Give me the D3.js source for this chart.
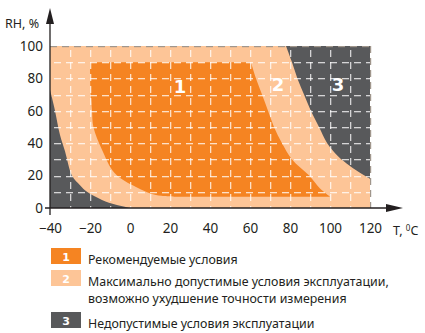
<!DOCTYPE html>
<html>
<head>
<meta charset="utf-8">
<script src="https://cdn.jsdelivr.net/npm/d3@7"></script>
<style>
  body { margin: 0; background: #fff; }
  text { font-family: "Noto Sans", sans-serif; fill: #231f20; }
</style>
</head>
<body>
<svg width="425" height="333"></svg>
<script>
// axis ticks
var tempTicks = [-40, -20, 0, 20, 40, 60, 80, 100, 120]
var rhTicks = [0, 20, 40, 60, 80, 100]
var tempGrid = [-30, -20, -10, 0, 10, 20, 30, 40, 50, 60, 70, 80, 90, 100, 110]
var rhGrid = [10, 20, 30, 40, 50, 60, 70, 80, 90]

// zone boundaries, [T, RH]
var zone3Low = [[-40, 73], [-39, 68], [-37.5, 60], [-35, 45], [-32.5, 35], [-29, 20], [-25, 14], [-21.5, 10], [-14, 5], [-7, 2], [0, 0]]
var zone3High = [[78, 100], [81, 90], [83.7, 80], [87, 70], [90.4, 60], [94.5, 50], [98.6, 40], [104, 32], [110, 26], [116, 21], [120, 18]]
var zone1Left = [[-20, 90], [-19.8, 75], [-19, 60], [-18.3, 50], [-14, 36], [-7.6, 21.5], [3, 13], [13, 8], [22, 7]]
var zone1Right = [[100, 7], [95, 12], [89.6, 20], [81, 30], [76, 40], [72, 50], [69, 60], [66, 70], [63, 80], [60.5, 90]]

// number labels on the chart
var zoneLabels = [{ n: '1', t: 25, rh: 75 }, { n: '2', t: 74, rh: 76 }, { n: '3', t: 104, rh: 76 }]

var legendItems = [
  { n: '1', lines: ['Рекомендуемые условия'] },
  { n: '2', lines: ['Максимально допустимые условия эксплуатации,', 'возможно ухудшение точности измерения'] },
  { n: '3', lines: ['Недопустимые условия эксплуатации'] }
]

var colors = { '1': '#f58422', '2': '#fdc597', '3': '#58595b' }

const svg = d3.select('svg')

const x = d3.scaleLinear().domain([-40, 120]).range([50, 370])
const y = d3.scaleLinear().domain([0, 100]).range([208, 46])

const curve = d3.line()
  .x(d => x(d[0]))
  .y(d => y(d[1]))
  .curve(d3.curveCatmullRom)

function pt(t, rh) {
  return x(t) + ',' + y(rh)
}

// background zone 2
svg.append('rect')
  .attr('x', x(-40))
  .attr('y', y(100))
  .attr('width', x(120) - x(-40))
  .attr('height', y(0) - y(100))
  .attr('fill', colors['2'])

// zone 3 lower left
svg.append('path')
  .attr('d', curve(zone3Low) + 'L' + pt(-40, 0) + 'Z')
  .attr('fill', colors['3'])

// zone 3 upper right
svg.append('path')
  .attr('d', curve(zone3High) + 'L' + pt(120, 100) + 'Z')
  .attr('fill', colors['3'])

// zone 1
svg.append('path')
  .attr('d', curve(zone1Left) + 'L' + curve(zone1Right).slice(1) + 'Z')
  .attr('fill', colors['1'])

// dashed grid drawn as small filled dashes
var dashLen = 7
var dashStep = 12
var vDashes = []
tempGrid.forEach(function(t) {
  for (var p = y(100) + 4; p < y(0); p += dashStep) {
    vDashes.push({ x: Math.round(x(t)), y: p, h: Math.min(dashLen, y(0) - p) })
  }
})
var hDashes = []
rhGrid.forEach(function(rh) {
  for (var p = x(-40) + 4; p < x(120); p += dashStep) {
    hDashes.push({ x: p, y: Math.round(y(rh)), w: Math.min(dashLen, x(120) - p) })
  }
})

var grid = svg.append('g')
  .attr('fill', '#ffffff')
  .attr('fill-opacity', 0.75)

grid.selectAll('rect.v')
  .data(vDashes)
  .enter()
  .append('rect')
  .attr('class', 'v')
  .attr('x', d => d.x)
  .attr('y', d => d.y)
  .attr('width', 1.3)
  .attr('height', d => d.h)

grid.selectAll('rect.h')
  .data(hDashes)
  .enter()
  .append('rect')
  .attr('class', 'h')
  .attr('x', d => d.x)
  .attr('y', d => d.y)
  .attr('width', d => d.w)
  .attr('height', 1.3)

// dashed frame top and right
var frame = svg.append('g').attr('fill', '#a0968c')
frame.selectAll('rect.t')
  .data(d3.range(x(-40), x(120), dashStep))
  .enter()
  .append('rect')
  .attr('x', d => d)
  .attr('y', y(100))
  .attr('width', d => Math.min(dashLen, x(120) - d))
  .attr('height', 1.2)
frame.selectAll('rect.r')
  .data(d3.range(y(100), y(0), dashStep))
  .enter()
  .append('rect')
  .attr('x', x(120))
  .attr('y', d => d)
  .attr('width', 1.2)
  .attr('height', d => Math.min(dashLen, y(0) - d))

// zone numbers
svg.selectAll('.zl')
  .data(zoneLabels)
  .enter()
  .append('text')
  .attr('x', d => x(d.t))
  .attr('y', d => y(d.rh))
  .attr('text-anchor', 'middle')
  .attr('dy', '0.35em')
  .style('font-family', '"DejaVu Sans", sans-serif')
  .style('font-weight', 'bold')
  .style('font-size', '18px')
  .style('fill', '#fff')
  .text(d => d.n)

// axes lines
svg.append('line')
  .attr('x1', 45).attr('x2', 390)
  .attr('y1', y(0)).attr('y2', y(0))
  .attr('stroke', '#231f20').attr('stroke-width', 1.3)
svg.append('line')
  .attr('x1', x(-40)).attr('x2', x(-40))
  .attr('y1', 215).attr('y2', 20)
  .attr('stroke', '#231f20').attr('stroke-width', 1.3)
svg.append('path')
  .attr('d', 'M403,' + y(0) + 'L386,' + (y(0) - 4) + 'L386,' + (y(0) + 4) + 'Z')
  .attr('fill', '#231f20')
svg.append('path')
  .attr('d', 'M' + x(-40) + ',8L' + (x(-40) - 4) + ',24L' + (x(-40) + 4) + ',24Z')
  .attr('fill', '#231f20')

// tick labels
const xAxis = svg.append('g')
  .attr('transform', `translate(0, ${y(0)})`)
  .call(d3.axisBottom(x).tickValues(tempTicks).tickSize(0).tickPadding(15))
xAxis.select('.domain').remove()
xAxis.selectAll('text')
  .style('font-family', '"Noto Sans", sans-serif')
  .style('font-size', '13.5px')
  .attr('fill', '#231f20')

const yAxis = svg.append('g')
  .attr('transform', `translate(43, 0)`)
  .call(d3.axisLeft(y).tickValues(rhTicks).tickSize(0).tickPadding(0))
yAxis.select('.domain').remove()
yAxis.selectAll('text')
  .style('font-family', '"Noto Sans", sans-serif')
  .style('font-size', '13.5px')
  .attr('fill', '#231f20')

svg.append('text')
  .attr('x', 5)
  .attr('y', 28)
  .style('font-size', '12.5px')
  .text('RH, %')

var tLabel = svg.append('text')
  .attr('x', 393)
  .attr('y', 235)
  .style('font-size', '12.5px')
tLabel.append('tspan').text('T, ')
tLabel.append('tspan').attr('dy', -4).style('font-size', '8px').text('0')
tLabel.append('tspan').attr('dy', 4).text('C')

// legend
var rowTop = [248, 270, 312]
var legend = svg.selectAll('.leg')
  .data(legendItems)
  .enter()
  .append('g')
  .attr('transform', (d, i) => `translate(51, ${rowTop[i]})`)

legend.append('rect')
  .attr('width', 30)
  .attr('height', 16)
  .attr('fill', d => colors[d.n])

legend.append('text')
  .attr('x', 15)
  .attr('y', 12.5)
  .attr('text-anchor', 'middle')
  .style('font-family', '"DejaVu Sans", sans-serif')
  .style('font-weight', 'bold')
  .style('font-size', '11px')
  .style('fill', '#fff')
  .text(d => d.n)

legend.each(function(d) {
  var g = d3.select(this)
  d.lines.forEach(function(line, j) {
    g.append('text')
      .attr('x', 37)
      .attr('y', 16 + j * 17)
      .style('font-size', '12.4px')
      .text(line)
  })
})
</script>
</body>
</html>
